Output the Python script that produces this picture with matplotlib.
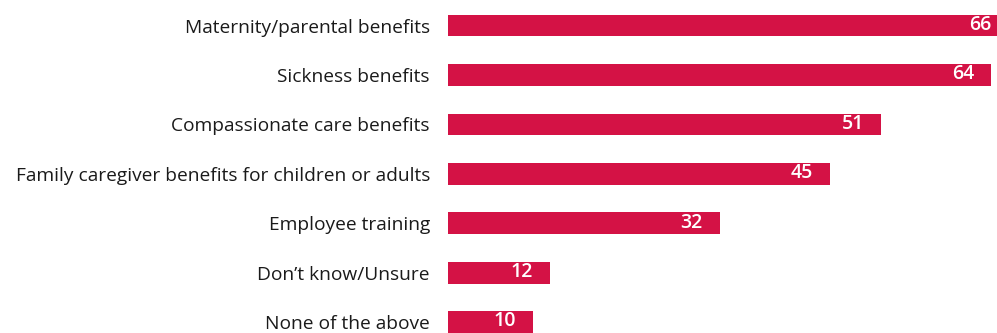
import matplotlib

matplotlib.use("Agg")
import matplotlib.pyplot as plt

categories = [
    "Maternity/parental benefits",
    "Sickness benefits",
    "Compassionate care benefits",
    "Family caregiver benefits for children or adults",
    "Employee training",
    "Don\u2019t know/Unsure",
    "None of the above",
]
values = [66, 64, 51, 45, 32, 12, 10]

BAR = "#d41245"

plt.rcParams["font.family"] = ["Open Sans", "DejaVu Sans"]

fig = plt.figure(figsize=(9.97, 3.33), dpi=100)
ax = fig.add_axes([448 / 997, 0, 1 - 448 / 997, 1])

ys = list(range(len(categories)))
ax.barh(ys, values, height=0.44, color=BAR)
for y, v in zip(ys, values):
    ax.annotate(str(v), (v, y), xytext=(-12, 0.5), textcoords="offset points",
                ha="right", va="center", color="white", fontsize=14,
                fontweight="semibold", annotation_clip=False)

ax.set_xlim(0, 64.7)
ax.set_ylim(6.22, -0.516)
ax.set_yticks(ys)
ax.set_yticklabels(categories, fontsize=13.8, color="#1a1a1a")
ax.tick_params(axis="y", length=0, pad=13)
ax.set_xticks([])
for s in ax.spines.values():
    s.set_visible(False)

fig.savefig("out.png", dpi=100)
